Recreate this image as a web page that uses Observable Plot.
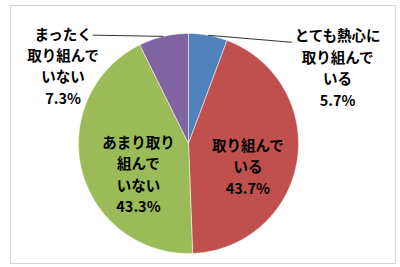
<!DOCTYPE html>
<html><head><meta charset="utf-8">
<script src="https://cdn.jsdelivr.net/npm/d3@7"></script>
<script src="https://cdn.jsdelivr.net/npm/@observablehq/plot@0.6"></script>
<style>
html,body{margin:0;padding:0;background:#fff;}
svg{display:block;}
</style>
</head><body>
<div id="chart"></div>
<script>
const categories = ["とても熱心に取り組んでいる", "取り組んでいる", "あまり取り組んでいない", "まったく取り組んでいない"];
const values = [5.7, 43.7, 43.3, 7.3];
const labelTexts = ["とても熱心に\n取り組んで\nいる", "取り組んで\nいる", "あまり取り\n組んで\nいない", "まったく\n取り組んで\nいない"];
const pctLabels = ["5.7%", "43.7%", "43.3%", "7.3%"];
const colors = ["#4F81BD", "#C0504D", "#9BBB59", "#8064A2"];

// layout (plot units, radius = 1)
const R = 110, CX = 188, CY = 143, W = 400, H = 267;
const labelPos = [[1.355, 0.70], [0.54, -0.20], [-0.455, -0.27], [-1.14, 0.715]];
const leaderEnd = [[0.94, 0.92], null, null, [-0.87, 0.985]];

const arcs = d3.pie().sort(null).value(d => d)(values);
const pts = [];
arcs.forEach((a, i) => {
  const cat = categories[i];
  pts.push({cat, x: 0, y: 0});
  const n = Math.max(8, Math.ceil((a.endAngle - a.startAngle) / 0.01));
  for (let k = 0; k <= n; k++) {
    const t = a.startAngle + (a.endAngle - a.startAngle) * k / n;
    pts.push({cat, x: Math.sin(t), y: Math.cos(t)});
  }
  pts.push({cat, x: 0, y: 0});
});

const labels = categories.map((c, i) => ({
  x: labelPos[i][0], y: labelPos[i][1], text: labelTexts[i] + "\n" + pctLabels[i]
}));
const links = [];
arcs.forEach((a, i) => {
  if (!leaderEnd[i]) return;
  const m = (a.startAngle + a.endAngle) / 2;
  links.push({x1: Math.sin(m), y1: Math.cos(m), x2: leaderEnd[i][0], y2: leaderEnd[i][1]});
});

const chart = Plot.plot({
  width: W, height: H,
  margin: 0,
  x: {axis: null, domain: [-CX / R, (W - CX) / R], range: [0, W]},
  y: {axis: null, domain: [-(H - CY) / R, CY / R], range: [H, 0]},
  color: {domain: categories, range: colors},
  style: {background: "#fff", fontFamily: "'Noto Sans CJK JP', sans-serif"},
  marks: [
    Plot.frame({insetLeft: 10, insetTop: 5, insetRight: 5, insetBottom: 4, stroke: "#d4d4d4", strokeWidth: 1}),
    Plot.line(pts, {x: "x", y: "y", z: "cat", fill: "cat", stroke: "#ffffff", strokeWidth: 0.5, curve: "linear"}),
    Plot.link(links, {x1: "x1", y1: "y1", x2: "x2", y2: "y2", stroke: "#333", strokeWidth: 1}),
    Plot.text(labels, {x: "x", y: "y", text: "text", lineAnchor: "middle", textAnchor: "middle",
      lineHeight: 1.48, fontSize: 14.5, fontWeight: "bold", fill: "#000"})
  ]
});
document.getElementById("chart").append(chart);
</script>
</body></html>
